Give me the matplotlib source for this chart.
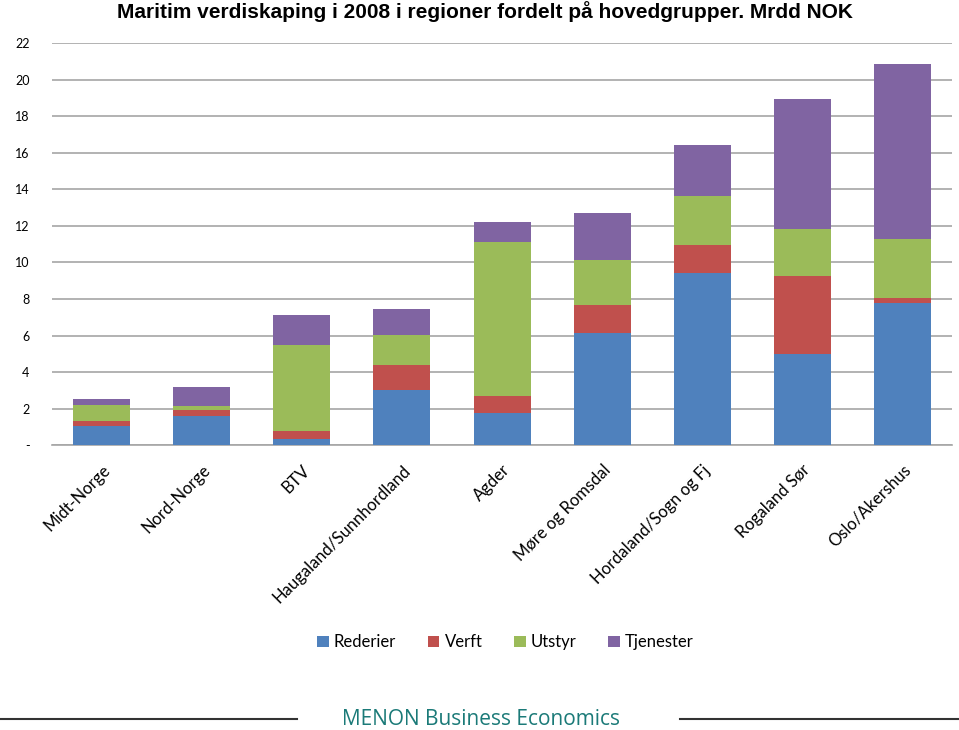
import matplotlib.pyplot as plt
import numpy as np

regioner = ['Midt-Norge', 'Nord-Norge', 'BTV', 'Haugaland/Sunnhordland', 'Agder',
            'Møre og Romsdal', 'Hordaland/Sogn og Fj', 'Rogaland Sør', 'Oslo/Akershus']
rederier = [1.04, 1.59, 0.33, 3.05, 1.79, 6.15, 9.45, 5.02, 7.76]
verft = [0.27, 0.33, 0.45, 1.33, 0.93, 1.53, 1.50, 4.23, 0.27]
utstyr = [0.88, 0.25, 4.69, 1.64, 8.41, 2.45, 2.70, 2.57, 3.28]
tjenester = [0.34, 1.04, 1.68, 1.46, 1.09, 2.57, 2.77, 7.10, 9.54]

serier = ['Rederier', 'Verft', 'Utstyr', 'Tjenester']
farger = ['#4f81bd', '#c0504d', '#9bbb59', '#8064a2']

fig = plt.figure(figsize=(9.59, 7.3), dpi=100)
ax = fig.add_axes([0.054, 0.390, 0.939, 0.551])

x = np.arange(len(regioner))
bunn = np.zeros(len(regioner))
for navn, verdier, farge in zip(serier, [rederier, verft, utstyr, tjenester], farger):
    ax.bar(x, verdier, 0.57, bottom=bunn, color=farge, label=navn, zorder=3)
    bunn += np.array(verdier)

ax.set_xlim(-0.5, len(regioner) - 0.5)
ax.set_ylim(0, 22)
ax.set_yticks(range(0, 23, 2))
ax.set_yticklabels(['-'] + [str(v) for v in range(2, 23, 2)], family='Lato', fontsize=9)
ax.yaxis.grid(True, color='#a6a6a6', linewidth=1.2, zorder=0)
for s in ['top', 'right', 'left']:
    ax.spines[s].set_visible(False)
ax.spines['bottom'].set_color('#a6a6a6')
ax.spines['bottom'].set_linewidth(1.2)
ax.tick_params(axis='both', length=0, pad=16)
ax.tick_params(axis='x', pad=12)
ax.set_xticks(x)
ax.set_xticklabels(regioner, rotation=45, ha='right', rotation_mode='anchor',
                   family='Lato', fontsize=12)

fig.text(0.506, 0.984, 'Maritim verdiskaping i 2008 i regioner fordelt på hovedgrupper. Mrdd NOK',
         ha='center', va='center', family='Liberation Sans', fontweight='bold', fontsize=15)

fig.legend(loc='center', bbox_to_anchor=(0.527, 0.120), ncol=4, frameon=False,
           prop={'family': 'Lato', 'size': 12}, handlelength=0.7, handleheight=0.7,
           columnspacing=1.9, handletextpad=0.3)

fig.text(0.502, 0.014, 'MENON Business Economics', ha='center', va='center',
         family='Open Sans', fontsize=15, color='#1b7a78')
fig.add_artist(plt.Line2D([0, 0.31], [0.015, 0.015], color='#333333', linewidth=1.5))
fig.add_artist(plt.Line2D([0.709, 1.0], [0.015, 0.015], color='#333333', linewidth=1.5))

fig.savefig('out.png', dpi=100)
